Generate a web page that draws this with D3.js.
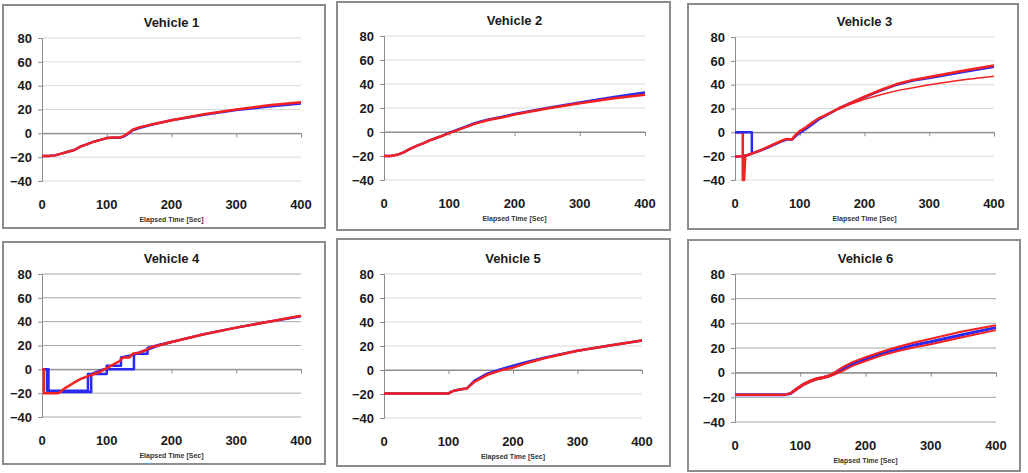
<!DOCTYPE html>
<html>
<head>
<meta charset="utf-8">
<script src="https://cdn.jsdelivr.net/npm/d3@7"></script>
<style>
  body { margin: 0; background: #fff; }
  svg { display: block; font-family: "Liberation Sans", Arial, sans-serif; }
</style>
</head>
<body>
<div id="chart"></div>
<script>
// ---- data (time in sec, value) ----
const yTicks = [-40, -20, 0, 20, 40, 60, 80];
const xTicks = [0, 100, 200, 300, 400];
const titles = ["Vehicle 1", "Vehicle 2", "Vehicle 3", "Vehicle 4", "Vehicle 5", "Vehicle 6"];

// Vehicle 1
const v1Time = [0, 10, 20, 30, 40, 50, 60, 70, 80, 90, 100, 110, 120, 125, 130, 135, 140, 150, 175, 200, 250, 300, 350, 400];
const v1Blue = [-19, -19, -18.5, -17, -15.5, -14, -11, -9, -7, -5.5, -4, -3.8, -3.8, -3, -1.5, 0.5, 2.5, 4.5, 8, 11, 15.5, 19.5, 22.5, 25];
const v1Red  = [-19, -19, -18.5, -17, -15.5, -14, -11, -9, -7, -5.5, -4, -3.5, -3.5, -2.5, -1, 1, 3, 5, 8, 11, 16, 20, 23.5, 26];

// Vehicle 2
const v2Time = [0, 10, 20, 30, 40, 50, 60, 70, 80, 90, 100, 120, 140, 160, 180, 200, 250, 300, 350, 400];
const v2Blue = [-20, -20, -19, -17, -14, -11.5, -9.5, -7, -5, -3, -0.5, 3.5, 7.5, 10.5, 12.5, 15, 20, 24.5, 29, 33];
const v2Red  = [-20, -20, -19, -17, -14, -11.5, -9.5, -7, -5, -3, -1, 3, 7, 10, 12, 14.5, 19.5, 24, 28, 31];

// Vehicle 3
const v3Time = [0, 10, 20, 30, 40, 50, 60, 70, 80, 88, 92, 96, 100, 110, 120, 130, 140, 160, 180, 200, 225, 250, 275, 300, 350, 400];
const v3Blue = [-20.5, -20, -19, -17, -15, -13, -10.5, -8, -6, -6, -4, -2, -0.5, 3, 7, 11, 14, 20, 25, 29.5, 35, 40, 43.5, 45.5, 50.5, 55];
const v3Red  = [-20.5, -20, -19, -17, -15, -12.5, -10, -7.5, -5.5, -6, -3, -1, 1, 4.5, 8.5, 12, 14.5, 20, 25, 30, 35.5, 40.5, 44, 46.5, 51.5, 56];
const v3RedLowTime = [140, 160, 180, 200, 225, 250, 275, 300, 350, 400];
const v3RedLow = [14.5, 19.5, 24, 27.7, 31.5, 35, 37.5, 40, 44, 47];
const v3BlueStartTime = [0, 26, 26];
const v3BlueStart = [0, 0, -17];
const v3RedStartTime = [0, 12, 12, 14, 16];
const v3RedStart = [0, 0, -40, -40, -19];

// Vehicle 4
const v4RedTime = [0, 3, 3, 25, 35, 50, 60, 75, 90, 100, 110, 120, 125, 135, 140, 150, 160, 170, 180, 200, 250, 300, 350, 400];
const v4Red = [0, 0, -20, -20, -16, -11, -8, -5, -2, 1, 4, 7, 10, 10, 13, 14, 16, 19, 20, 23, 29.5, 35, 40, 45];
const v4BlueATime = [0, 8, 8, 71, 71, 100, 100, 122, 122, 140, 160, 180, 200, 250, 300, 350, 400];
const v4BlueA = [0, 0, -18, -18, -4, -4, 3, 3, 10, 12, 16, 20, 23, 29.5, 35, 40, 44.5];
const v4BlueBTime = [0, 10, 10, 76, 76, 90, 95, 142, 142, 163, 163, 180, 200];
const v4BlueB = [0, 0, -19, -19, -4, -1, 0, 0, 13, 13, 18, 20.5, 23];

// Vehicle 5
const v5Time = [0, 50, 100, 105, 110, 120, 128, 140, 160, 180, 200, 220, 250, 300, 350, 400];
const v5Blue = [-19.5, -19.5, -19.5, -18, -17, -16, -15.5, -9, -3, 0.5, 3.5, 6.5, 10.5, 16, 20.5, 24.5];
const v5Red  = [-19.5, -19.5, -19.5, -18, -17, -16, -15.5, -10, -4, -0.5, 2, 5.5, 10, 16, 20.5, 24.5];

// Vehicle 6
const v6Time = [0, 50, 75, 85, 95, 105, 115, 125, 135, 145, 155, 165, 180, 200, 225, 250, 275, 300, 350, 400];
const v6Blue     = [-18, -18, -18, -17, -13, -9.5, -7, -5, -4, -2.5, 0, 3, 7, 11, 15.5, 19, 22.5, 25, 31, 36.5];
const v6RedUpper = [-18, -18, -18, -16.5, -12.5, -9, -6.5, -4.5, -3.5, -2, 1, 4.5, 8.5, 12.5, 17, 21, 24.5, 27.5, 33.5, 38.5];
const v6RedLower = [-18, -18, -18, -17, -13.5, -10, -7.5, -5.5, -4.5, -3, -1, 1.5, 5.5, 9.5, 14, 17.5, 20.5, 23, 29, 34.5];

const BLUE = "#2a2af5", RED = "#f52020";

// ---- layout of each panel (pixels) ----
const panels = [
  { box: [3, 5, 322, 223], plot: [42, 38, 301, 181], grid: "#d9d9d9",
    series: [[v1Time, v1Blue, BLUE], [v1Time, v1Red, RED]] },
  { box: [337, 2, 333, 228], plot: [384, 36, 645, 180], grid: "#d9d9d9",
    series: [[v2Time, v2Blue, BLUE], [v2Time, v2Red, RED]] },
  { box: [688, 4, 330, 225], plot: [735, 37, 994, 180], grid: "#d9d9d9",
    series: [[v3RedStartTime, v3RedStart, RED], [v3BlueStartTime, v3BlueStart, BLUE],
             [v3Time, v3Blue, BLUE], [v3RedLowTime, v3RedLow, RED, 1.5], [v3Time, v3Red, RED]] },
  { box: [3, 242, 322, 222], plot: [42, 274, 301, 417], grid: "#a6a6a6",
    series: [[v4BlueATime, v4BlueA, BLUE], [v4BlueBTime, v4BlueB, BLUE], [v4RedTime, v4Red, RED]] },
  { box: [337, 239, 333, 227], plot: [384, 274, 642, 418], grid: "#d9d9d9",
    series: [[v5Time, v5Blue, BLUE], [v5Time, v5Red, RED]] },
  { box: [688, 240, 332, 231], plot: [735, 274, 996, 422], grid: "#a6a6a6",
    series: [[v6Time, v6Blue, BLUE, 3], [v6Time, v6RedUpper, RED, 2], [v6Time, v6RedLower, RED, 2]] }
];

const svg = d3.select("#chart").append("svg")
  .attr("width", 1028)
  .attr("height", 473);

panels.forEach((p, i) => {
  const [bx, by, bw, bh] = p.box;
  const [x0, y0, x1, y1] = p.plot;

  // panel frame
  svg.append("rect")
    .attr("x", bx).attr("y", by)
    .attr("width", bw).attr("height", bh)
    .attr("fill", "#fff")
    .attr("stroke", "#8c8c8c")
    .attr("stroke-width", 2);

  const x = d3.scaleLinear().domain([0, 400]).range([x0, x1]);
  const y = d3.scaleLinear().domain([-40, 80]).range([y1, y0]);

  const g = svg.append("g");

  // horizontal gridlines
  g.selectAll(".grid")
    .data(yTicks)
    .enter()
    .append("line")
    .attr("x1", x0).attr("x2", x1)
    .attr("y1", d => y(d)).attr("y2", d => y(d))
    .attr("stroke", d => d === 0 ? "#8c8c8c" : p.grid)
    .attr("stroke-width", 1);

  // y axis
  const yAxis = g.append("g")
    .attr("transform", `translate(${x0},0)`)
    .call(d3.axisLeft(y).tickValues(yTicks).tickSize(4).tickPadding(6));
  yAxis.select(".domain").attr("stroke", "#8c8c8c");
  yAxis.selectAll(".tick line").attr("stroke", "#8c8c8c");
  yAxis.selectAll("text")
    .attr("fill", "#1a1a1a")
    .style("font-size", "13px")
    .style("font-weight", "bold");

  // x axis ticks on the zero line, labels below the plot
  const xAxis = g.append("g")
    .attr("transform", `translate(0,${y(0)})`)
    .call(d3.axisBottom(x).tickValues(xTicks).tickSize(4).tickFormat(""));
  xAxis.select(".domain").attr("stroke", "#8c8c8c");
  xAxis.selectAll(".tick line").attr("stroke", "#8c8c8c");

  g.selectAll(".xlab")
    .data(xTicks)
    .enter()
    .append("text")
    .attr("x", d => x(d))
    .attr("y", y1 + 28)
    .attr("text-anchor", "middle")
    .attr("fill", "#1a1a1a")
    .style("font-size", "13px")
    .style("font-weight", "bold")
    .text(d => d);

  g.append("text")
    .attr("x", (x0 + x1) / 2)
    .attr("y", y1 + 41)
    .attr("text-anchor", "middle")
    .attr("fill", "#333")
    .style("font-size", "7px")
    .style("font-weight", "bold")
    .text("Elapsed Time [Sec]");

  g.append("text")
    .attr("x", (x0 + x1) / 2)
    .attr("y", y0 - 11)
    .attr("text-anchor", "middle")
    .attr("fill", "#1a1a1a")
    .style("font-size", "13px")
    .style("font-weight", "bold")
    .text(titles[i]);

  // data lines
  const line = d3.line()
    .x(d => x(d[0]))
    .y(d => y(d[1]));

  p.series.forEach(([ts, vs, color, w]) => {
    g.append("path")
      .datum(ts.map((t, k) => [t, vs[k]]))
      .attr("fill", "none")
      .attr("stroke", color)
      .attr("stroke-width", w || 2.5)
      .attr("stroke-linejoin", "round")
      .attr("d", line);
  });
});
</script>
</body>
</html>
